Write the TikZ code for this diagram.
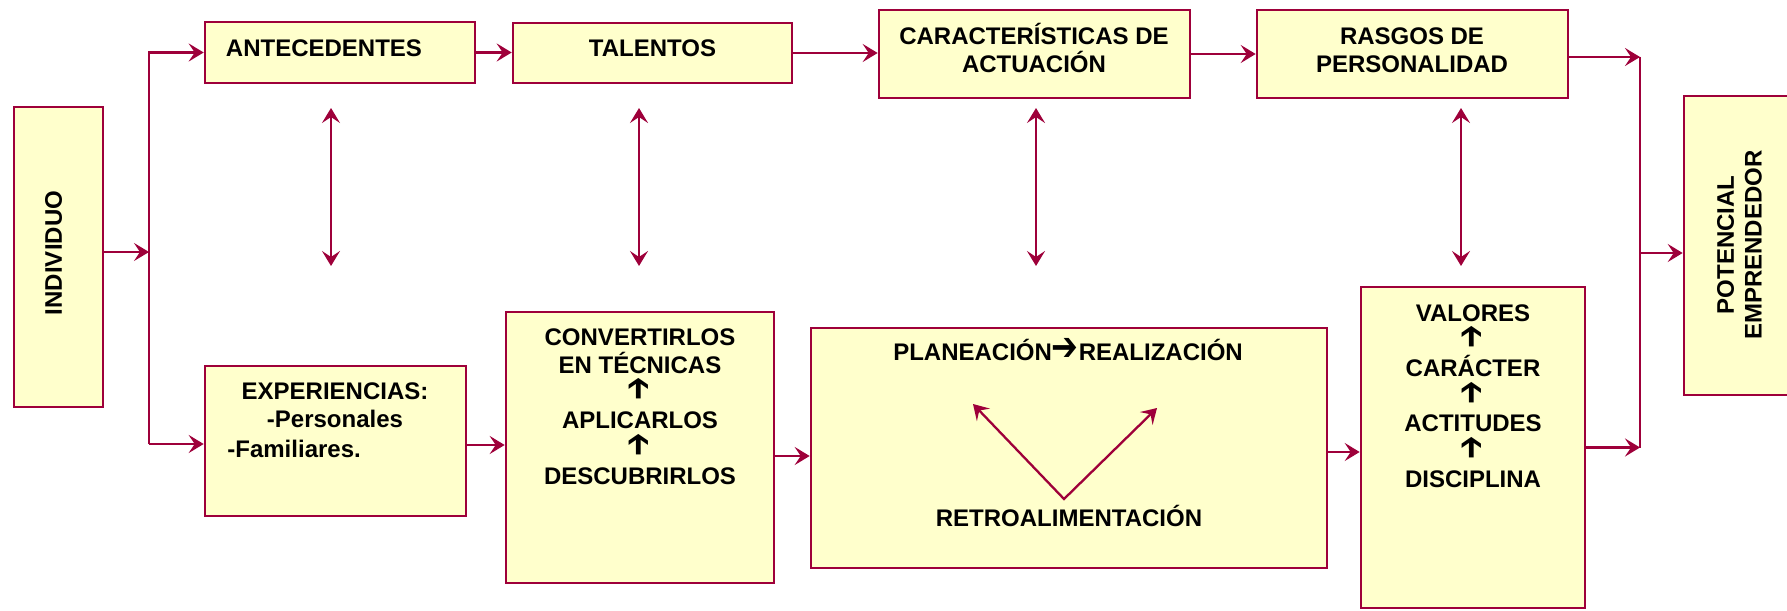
\documentclass[tikz,border=0pt]{standalone}
\usepackage{fontspec}
\setmainfont{Liberation Sans}
\newfontfamily\simbolos{DejaVu Sans}
\usetikzlibrary{arrows.meta}
\definecolor{rojo}{RGB}{158,0,58}
\definecolor{crema}{RGB}{255,255,204}
\newcommand{\subir}{\rotatebox{90}{\scalebox{1}[1.45]{\simbolos\fontsize{14}{14}\selectfont ➔}}}
\newcommand{\seguir}{\scalebox{1}[1.25]{\simbolos\fontsize{16}{16}\selectfont ➔}}
\tikzset{
  caja/.style={draw=rojo, fill=crema, line width=1.3pt, inner sep=0pt},
  texto/.style={font=\fontsize{12}{13.85}\selectfont\bfseries, inner sep=0pt, align=center},
  linea/.style={draw=rojo, line width=1.15pt},
  punta/.tip={Stealth[length=7.5pt,width=9pt,inset=3pt]},
  flecha/.style={linea, -punta},
  doble/.style={linea, punta-punta}
}

\begin{document}
\begin{tikzpicture}[x=0.5pt, y=-0.5pt]
	%%%%% MARCO %%%%%
	\clip (0,0) rectangle (1787,610);
	
	%%%%% CAJAS %%%%%
	\node[caja, minimum width=44.5pt, minimum height=150pt] (individuo) at (58.5,257) {};
	\node[caja, minimum width=135pt, minimum height=30.5pt] (antecedentes) at (340,52.5) {};
	\node[caja, minimum width=139.5pt, minimum height=30pt] (talentos) at (652.5,53) {};
	\node[caja, minimum width=155.5pt, minimum height=44pt] (caracteristicas) at (1034.5,54) {};
	\node[caja, minimum width=155.5pt, minimum height=44pt] (rasgos) at (1412.5,54) {};
	\node[caja, minimum width=58pt, minimum height=149.5pt] (potencial) at (1742,245.5) {};
	\node[caja, minimum width=130.5pt, minimum height=75pt] (experiencias) at (335.5,441) {};
	\node[caja, minimum width=134pt, minimum height=135.5pt] (convertirlos) at (640,447.5) {};
	\node[caja, minimum width=258pt, minimum height=120pt] (planeacion) at (1069,448) {};
	\node[caja, minimum width=112pt, minimum height=160.5pt] (valores) at (1473,447.5) {};
	
	%%%%% TEXTOS %%%%%
	\node[texto, rotate=90] (tindividuo) at (53.5,253) {INDIVIDUO};
	\node[texto, anchor=base] (tantecedentes) at (324,56.6) {ANTECEDENTES};
	\node[texto, anchor=base] (ttalentos) at (652.5,56.6) {TALENTOS};
	\node[texto] (tcaracteristicas) at (1034,48) {CARACTERÍSTICAS DE\\ACTUACIÓN};
	\node[texto] (trasgos) at (1412,50.5) {RASGOS DE\\PERSONALIDAD};
	\node[texto, rotate=90] (tpotencial) at (1739.5,245) {POTENCIAL\\EMPRENDEDOR};
	\node[texto] (texperiencias) at (335,405.5) {EXPERIENCIAS:\\-Personales};
	\node[texto, anchor=base west] (tfamiliares) at (227,457) {-Familiares.};
	\node[texto] (tconvertirlos) at (640,406.5) {CONVERTIRLOS\\EN TÉCNICAS\\\subir\\APLICARLOS\\\subir\\DESCUBRIRLOS};
	\node[texto, anchor=base] (tplaneacion) at (1068,360.6) {PLANEACIÓN\seguir REALIZACIÓN};
	\node[texto, anchor=base] (tretro) at (1069,526.6) {RETROALIMENTACIÓN};
	\node[texto] (tvalores) at (1473,396) {VALORES\\\subir\\CARÁCTER\\\subir\\ACTITUDES\\\subir\\DISCIPLINA};
	
	%%%%% TRONCOS %%%%%
	\coordinate (tizq) at (149,252);
	\coordinate (tder) at (1640,253);
	\coordinate (expent) at ([yshift=-1.5pt]experiencias.west);
	\coordinate (expsal) at ([yshift=-2pt]experiencias.east);
	\coordinate (convsal) at ([yshift=-4.25pt]convertirlos.east);
	\coordinate (plansal) at ([yshift=-2pt]planeacion.east);
	\coordinate (rassal) at ([yshift=-1.5pt]rasgos.east);
	
	\draw[flecha] (individuo.east |- tizq) -- (tizq);
	\draw[flecha] (expent -| tizq) -- (tizq |- antecedentes.west) -- (antecedentes.west);
	\draw[flecha] (expent -| tizq) -- (expent);
	
	\draw[linea] (rassal -| tder) -- (valores.east -| tder);
	\draw[flecha] (rassal) -- (rassal -| tder);
	\draw[flecha] (valores.east) -- (valores.east -| tder);
	\draw[flecha] (tder) -- (tder -| potencial.west);
	
	%%%%% CADENAS %%%%%
	\draw[flecha] (antecedentes.east) -- (antecedentes.east -| talentos.west);
	\draw[flecha] (talentos.east) -- (talentos.east -| caracteristicas.west);
	\draw[flecha] (caracteristicas.east) -- (caracteristicas.east -| rasgos.west);
	\draw[flecha] (expsal) -- (expsal -| convertirlos.west);
	\draw[flecha] (convsal) -- (convsal -| planeacion.west);
	\draw[flecha] (plansal) -- (plansal -| valores.west);
	
	%%%%% VERTICALES %%%%%
	\foreach \x [count=\i] in {331,639,1036,1461} {
		\coordinate (sup\i) at (\x,108);
		\coordinate (inf\i) at (\x,266);
		\draw[doble] (sup\i) -- (inf\i);
	}
	
	%%%%% RETROALIMENTACION %%%%%
	\coordinate (vertice) at (1064,499);
	\coordinate (puntaizq) at (973,404);
	\coordinate (puntader) at (1157,408);
	\draw[doble] (puntaizq) -- (vertice) -- (puntader);
\end{tikzpicture}
\end{document}
